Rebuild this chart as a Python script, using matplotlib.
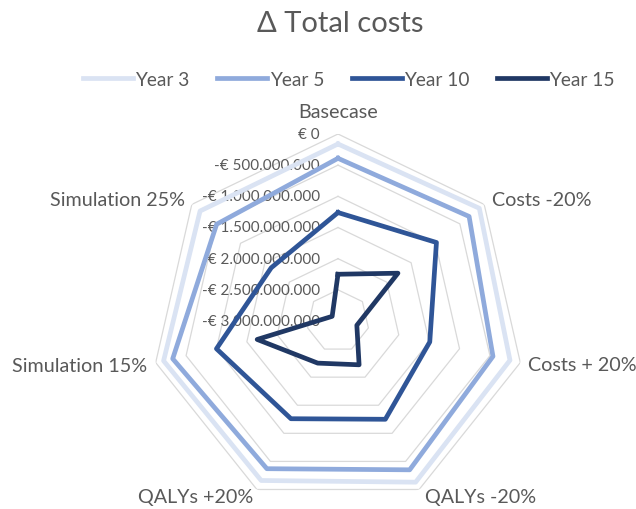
import numpy as np
import matplotlib
matplotlib.use('Agg')
import matplotlib.pyplot as plt

categories = ['Basecase', 'Costs -20%', 'Costs + 20%', 'QALYs -20%', 'QALYs +20%',
              'Simulation 15%', 'Simulation 25%']
years = ['Year 3', 'Year 5', 'Year 10', 'Year 15']

# delta total costs in billion euro
year3 = [-0.16, -0.10, -0.17, -0.13, -0.16, -0.13, -0.17]
year5 = [-0.39, -0.31, -0.45, -0.35, -0.37, -0.28, -0.51]
year10 = [-1.26, -0.98, -1.49, -1.25, -1.26, -1.00, -1.63]
year15 = [-2.25, -1.77, -2.69, -2.22, -2.25, -1.67, -2.88]

ticks = [0, -0.5, -1.0, -1.5, -2.0, -2.5, -3.0]

colors = ['#dae3f3', '#8faadc', '#2f5597', '#203864']
text_col = '#595959'
grid_col = '#d9d9d9'

plt.rcParams['font.family'] = ['Lato', 'DejaVu Sans']

fig = plt.figure(figsize=(6.36, 5.10), dpi=100)
ax = fig.add_axes([151 / 636, 1 / 510, 374 / 636, 374 / 510], projection='polar')
ax.set_theta_zero_location('N')
ax.set_theta_direction(-1)

n = len(categories)
angles = np.linspace(0, 2 * np.pi, n, endpoint=False)
closed = np.append(angles, angles[0])

ax.set_ylim(-3e9, 0)
ax.grid(False)
ax.set_xticks([])
ax.set_yticks([])
ax.spines['polar'].set_visible(False)
ax.patch.set_visible(False)

# heptagon grid
for t in ticks[:-1]:
    ax.plot(closed, [t * 1e9] * (n + 1), color=grid_col, lw=0.9, zorder=1)

for vals, name, c in zip([year3, year5, year10, year15], years, colors):
    v = np.array(vals + vals[:1]) * 1e9
    ax.plot(closed, v, color=c, lw=3.4, label=name, solid_joinstyle='round', zorder=2)

# radial labels
for t in ticks:
    lab = '€ 0' if t == 0 else '-€ ' + f'{abs(t) * 1e9:,.0f}'.replace(',', '.')
    ax.annotate(lab, xy=(0, t * 1e9), xytext=(-18, 0), textcoords='offset pixels',
                ha='right', va='center', fontsize=11, color=text_col, zorder=1)

# category labels
offsets = [(0, 23, 'center'), (8, 5, 'left'), (8, -2, 'left'), (6, -7, 'left'),
           (-4, -7, 'right'), (-9, -3, 'right'), (-7, 5, 'right')]
for a, cat, (dx, dy, ha) in zip(angles, categories, offsets):
    ax.annotate(cat, xy=(a, 0), xytext=(dx, dy), textcoords='offset pixels',
                ha=ha, va='center', fontsize=14.2, color=text_col)

fig.text(340 / 636, 1 - 24 / 510, 'Δ Total costs', ha='center', va='center',
         fontsize=21, color=text_col)

leg = fig.legend(loc='center', bbox_to_anchor=(349 / 636, 1 - 80 / 510), ncol=4,
                 frameon=False, fontsize=13.8, handlelength=2.6, handletextpad=0.12,
                 columnspacing=1.45)
for t in leg.get_texts():
    t.set_color(text_col)

fig.savefig('out.png', dpi=100)
